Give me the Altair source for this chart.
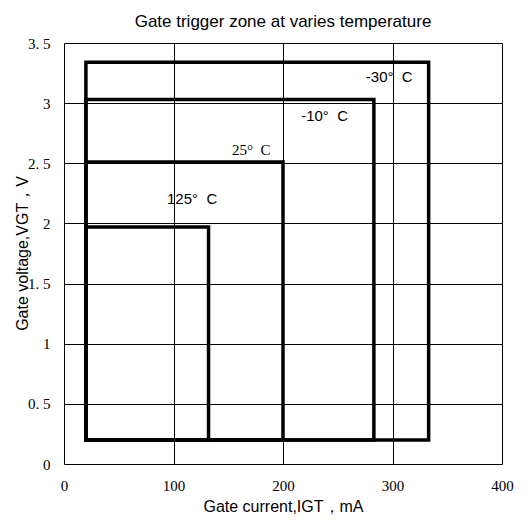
import altair as alt
import pandas as pd

# Rectangles (gate trigger zones)
temps = ["-30° C", "-10° C", "25° C", "125° C"]
x_start = [20, 20, 20, 20]
x_end = [333, 283, 200, 132]
y_start = [0.2, 0.2, 0.2, 0.2]
y_end = [3.34, 3.03, 2.51, 1.97]

# Label positions
label_text = ["-30°\u00a0\u00a0C", "-10°\u00a0\u00a0C", "25°\u00a0\u00a0C", "125°\u00a0\u00a0C"]
label_x = [297, 238, 171, 117]
label_y = [3.22, 2.89, 2.61, 2.2]
label_serif = [False, False, True, False]

rects = pd.DataFrame({"t": temps, "x": x_start, "x2": x_end, "y": y_start, "y2": y_end})
labels = pd.DataFrame({"t": label_text, "x": label_x, "y": label_y, "serif": label_serif})

xs = alt.Scale(domain=[0, 400], nice=False)
ys = alt.Scale(domain=[0, 3.5], nice=False)

x_axis = alt.Axis(values=[0, 100, 200, 300, 400], title="Gate current,IGT，mA",
                  grid=True, gridColor="black", gridOpacity=1, gridWidth=1,
                  ticks=False, domain=False, labelFont="Liberation Serif", labelFontSize=15,
                  labelColor="black", labelPadding=14, labelFlush=False,
                  titleFont="Liberation Sans",
                  titleFontSize=16, titleFontWeight="normal", titleColor="black", titlePadding=5)
y_axis = alt.Axis(values=[0, 0.5, 1, 1.5, 2, 2.5, 3, 3.5], title="Gate voltage,VGT，V",
                  grid=True, gridColor="black", gridOpacity=1, gridWidth=1,
                  ticks=False, domain=False, labelFont="Liberation Serif", labelFontSize=15,
                  labelColor="black", labelPadding=14, labelFlush=False,
                  labelExpr="replace(format(datum.value, '~g'), '.', '. ')",
                  titleFont="Liberation Sans", titleFontSize=16, titleFontWeight="normal",
                  titleColor="black", titleX=-34, titleY=210, titleAngle=270)

base = alt.Chart(rects).mark_rect(filled=False, stroke="black", strokeWidth=3.5).encode(
    x=alt.X("x:Q", scale=xs, axis=x_axis),
    x2="x2",
    y=alt.Y("y:Q", scale=ys, axis=y_axis),
    y2="y2",
)

txt_sans = alt.Chart(labels).transform_filter("!datum.serif").mark_text(
    fontSize=15, color="black", font="Liberation Sans").encode(
    x=alt.X("x:Q", scale=xs),
    y=alt.Y("y:Q", scale=ys),
    text="t:N",
)
txt_serif = alt.Chart(labels).transform_filter("datum.serif").mark_text(
    fontSize=15, color="black", font="Liberation Serif").encode(
    x=alt.X("x:Q", scale=xs),
    y=alt.Y("y:Q", scale=ys),
    text="t:N",
)

chart = (base + txt_sans + txt_serif).properties(
    width=438, height=421,
    title=alt.TitleParams("Gate trigger zone at varies temperature", font="Liberation Sans",
                          fontSize=17, fontWeight="normal", color="black", offset=5),
    autosize=alt.AutoSizeParams(type="none"),
    padding={"left": 56, "top": 35, "right": 17, "bottom": 50},
).configure_view(stroke="black", strokeWidth=2).configure(background="white")

chart.save("out.html", embed_options={"renderer": "svg", "actions": False})
